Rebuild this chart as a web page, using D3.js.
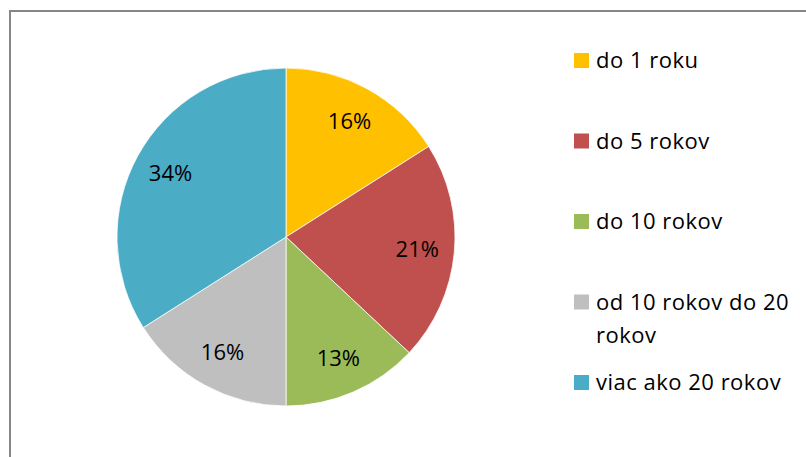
<!DOCTYPE html>
<html>
<head>
<meta charset="utf-8">
<script src="https://cdn.jsdelivr.net/npm/d3@7"></script>
<style>
  html, body { margin: 0; padding: 0; background: #fff; }
  svg { display: block; }
  text { font-family: "Open Sans", "Noto Sans", sans-serif; fill: #000; }
</style>
</head>
<body>
<svg id="chart" width="806" height="457"></svg>
<script>
// Length of employment categories and their shares (%)
const categories = ["do 1 roku", "do 5 rokov", "do 10 rokov", "od 10 rokov do 20 rokov", "viac ako 20 rokov"];
const legendLines = [["do 1 roku"], ["do 5 rokov"], ["do 10 rokov"], ["od 10 rokov do 20", "rokov"], ["viac ako 20 rokov"]];
const shares = [16, 21, 13, 16, 34];
const colors = ["#FFC000", "#C0504D", "#9BBB59", "#BFBFBF", "#4BACC6"];

const svg = d3.select("#chart");
const W = 806, H = 457;

// chart area frame (runs past the right and bottom edges)
svg.append("rect")
  .attr("x", 10).attr("y", 11)
  .attr("width", W + 20).attr("height", H + 20)
  .attr("fill", "#fff")
  .attr("stroke", "#868686")
  .attr("stroke-width", 2);

const cx = 286, cy = 237, R = 169;

const pie = d3.pie().sort(null).value(d => d.value);
const arcs = pie(shares.map((v, i) => ({ value: v, i })));

const arc = d3.arc().innerRadius(0).outerRadius(R);
const labelArc = d3.arc().innerRadius(R * 0.78).outerRadius(R * 0.78);

const color = d3.scaleOrdinal().domain(d3.range(categories.length)).range(colors);

const g = svg.append("g").attr("transform", `translate(${cx},${cy})`);

g.selectAll("path.slice")
  .data(arcs)
  .enter().append("path")
  .attr("class", "slice")
  .attr("d", arc)
  .attr("fill", d => color(d.data.i))
  .attr("stroke", "#fff")
  .attr("stroke-width", 0.75);

g.selectAll("text.pct")
  .data(arcs)
  .enter().append("text")
  .attr("class", "pct")
  .attr("transform", d => {
    const [x, y] = labelArc.centroid(d);
    return `translate(${x},${y})`;
  })
  .attr("text-anchor", "middle")
  .attr("dy", "0.36em")
  .style("font-size", "22px")
  .text(d => d.data.value + "%");

// legend
const legendX = 574, legendTop = 53, legendStep = 80.5, box = 15;
const legend = svg.append("g");
const items = legend.selectAll("g.item")
  .data(categories)
  .enter().append("g")
  .attr("class", "item")
  .attr("transform", (d, i) => `translate(${legendX},${legendTop + i * legendStep})`);

items.append("rect")
  .attr("width", box).attr("height", box)
  .attr("fill", (d, i) => color(i));

items.append("text")
  .attr("x", 22)
  .attr("y", box)
  .style("font-size", "22px")
  .style("letter-spacing", "0.5px")
  .each(function(d, i) {
    const t = d3.select(this);
    legendLines[i].forEach((line, k) => {
      t.append("tspan").attr("x", 22).attr("dy", k === 0 ? 0 : 33).text(line);
    });
  });
</script>
</body>
</html>
